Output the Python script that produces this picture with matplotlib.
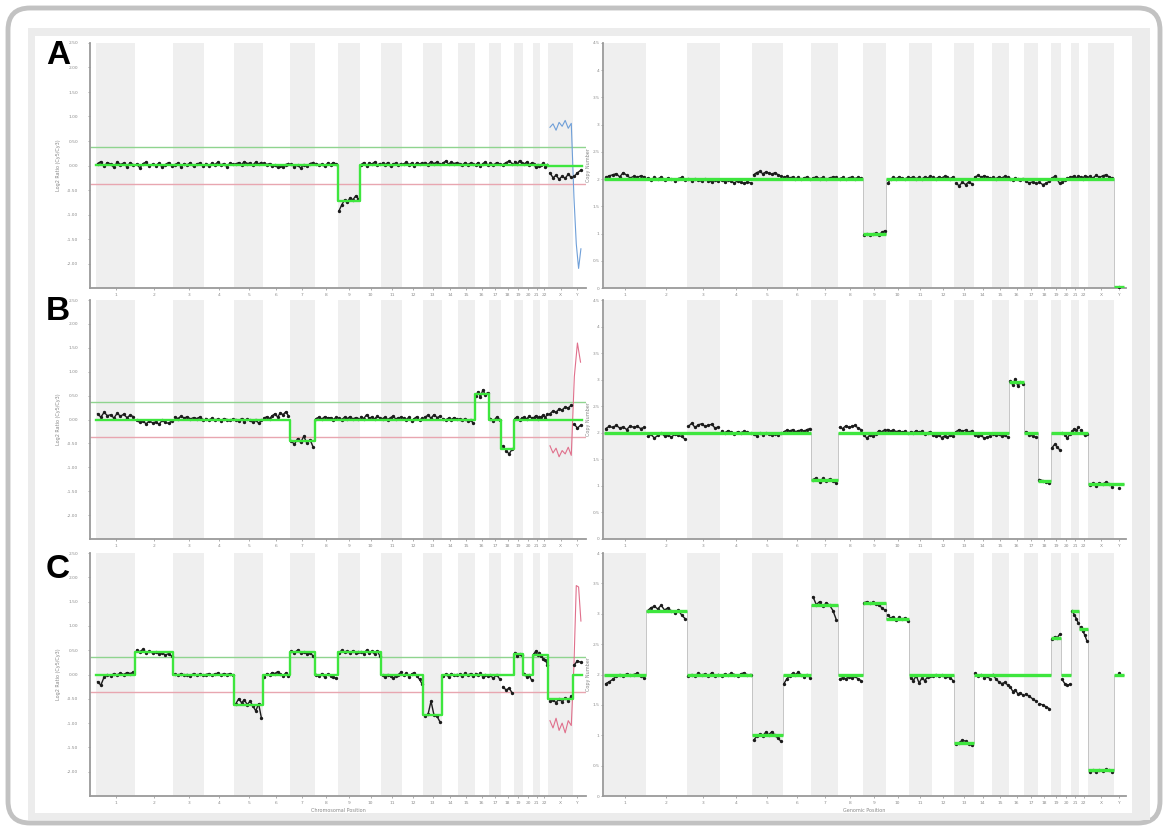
import numpy as np
import matplotlib.pyplot as plt
from matplotlib.patches import FancyBboxPatch, Rectangle
from matplotlib.transforms import IdentityTransform

# chromosome layout (Mb)
CHROMS = [str(i) for i in range(1, 23)] + ['X', 'Y']
CHROM_LEN = [249, 243, 198, 191, 181, 171, 159, 146, 141, 136, 135, 134,
             115, 107, 103, 90, 81, 78, 59, 63, 48, 51, 155, 59]

# ---------------- panel A ----------------
A_LOG2 = {
    '1': [0.04, 0.08, -0.02, 0.06, 0.03, -0.04, 0.07, 0.02, 0.05, -0.03, 0.06, 0.01],
    '2': [0.03, -0.05, 0.04, 0.07, -0.02, 0.03, 0.00, 0.05, -0.04, 0.02, 0.06, -0.01],
    '3': [0.02, 0.05, -0.03, 0.04, 0.01, 0.06, -0.02, 0.03, 0.05, 0.00],
    '4': [0.04, -0.02, 0.05, 0.02, 0.07, 0.01, 0.04, -0.03, 0.05, 0.03],
    '5': [0.03, 0.06, 0.02, 0.08, 0.04, 0.05, 0.01, 0.07, 0.03, 0.06],
    '6': [0.05, 0.02, 0.04, -0.02, 0.01, -0.04, 0.00, -0.03, 0.02, 0.04],
    '7': [0.03, -0.03, 0.01, -0.05, 0.02, -0.02, 0.04, 0.06],
    '8': [0.04, 0.01, 0.03, -0.02, 0.05, 0.02, 0.06, 0.03],
    '9': [-0.92, -0.80, -0.70, -0.74, -0.66, -0.70, -0.62, -0.68],
    '10': [0.02, 0.06, -0.01, 0.05, 0.03, 0.07, 0.01, 0.04],
    '11': [0.05, 0.02, 0.06, -0.02, 0.03, 0.05, 0.01, 0.04],
    '12': [0.03, 0.07, 0.02, 0.05, 0.00, 0.06, 0.03, 0.05],
    '13': [0.06, 0.02, 0.08, 0.04, 0.07, 0.03],
    '14': [0.05, 0.09, 0.03, 0.07, 0.04, 0.06],
    '15': [0.04, 0.01, 0.06, 0.02, 0.05, 0.03],
    '16': [0.02, 0.06, -0.01, 0.04, 0.07, 0.02],
    '17': [0.05, 0.01, 0.06, 0.03],
    '18': [0.02, 0.06, 0.09, 0.04],
    '19': [0.08, 0.03, 0.10, 0.05],
    '20': [0.03, 0.07, 0.02, 0.05],
    '21': [0.04, -0.04, 0.02, -0.02],
    '22': [0.01, 0.05, -0.03, 0.02],
    'X': [-0.15, -0.25, -0.20, -0.28, -0.22, -0.26, -0.18, -0.24],
    'Y': [-0.22, -0.15, -0.10],
}
A_LOG2_SEG = [('1', '8', 0.02), ('9', '9', -0.72), ('10', '22', 0.02), ('X', 'Y', -0.02)]
A_RAW_X = [0.78, 0.85, 0.72, 0.88, 0.80, 0.92, 0.76, 0.86]
A_RAW_Y = [-0.65, -1.60, -2.10, -1.70]

A_CN = {
    '1': [2.03, 2.06, 2.08, 2.10, 2.04, 2.12, 2.07, 2.02, 2.05, 2.03, 2.06, 2.04],
    '2': [2.02, 1.98, 2.03, 2.00, 2.04, 1.99, 2.02, 2.00, 1.97, 2.01, 2.03, 1.99],
    '3': [2.00, 1.97, 2.01, 1.98, 1.96, 2.00, 1.97, 1.95, 1.98, 1.96],
    '4': [1.98, 1.95, 1.99, 1.96, 1.93, 1.97, 1.94, 1.92, 1.95, 1.93],
    '5': [2.08, 2.12, 2.14, 2.10, 2.13, 2.11, 2.09, 2.12, 2.08, 2.05],
    '6': [2.03, 2.05, 2.02, 2.04, 2.01, 2.03, 2.00, 2.02, 2.04, 2.01],
    '7': [2.02, 2.04, 2.01, 2.03, 2.00, 2.02, 2.04, 2.03],
    '8': [2.01, 2.03, 2.00, 2.02, 2.04, 2.01, 2.03, 2.02],
    '9': [0.98, 1.00, 0.97, 0.99, 1.01, 0.98, 1.02, 1.05],
    '10': [1.92, 2.00, 2.03, 2.01, 2.04, 2.02, 2.00, 2.03],
    '11': [2.02, 2.04, 2.01, 2.03, 2.00, 2.04, 2.02, 2.05],
    '12': [2.03, 2.01, 2.04, 2.02, 2.05, 2.03, 2.01, 2.04],
    '13': [1.92, 1.88, 1.94, 1.90, 1.95, 1.91],
    '14': [2.04, 2.07, 2.03, 2.06, 2.04, 2.02],
    '15': [2.03, 2.01, 2.04, 2.02, 2.05, 2.03],
    '16': [2.01, 1.99, 2.02, 2.00, 1.98, 2.01],
    '17': [1.96, 1.93, 1.95, 1.92],
    '18': [1.94, 1.90, 1.92, 1.96],
    '19': [2.02, 2.05, 2.01, 1.92],
    '20': [1.94, 1.98, 2.02, 2.03],
    '21': [2.03, 2.06, 2.02, 2.05],
    '22': [2.04, 2.01, 2.06, 2.03],
    'X': [2.05, 2.02, 2.07, 2.03, 2.06, 2.08, 2.04, 2.02],
    'Y': [0.02],
}
A_CN_SEG = [('1', '8', 2.0), ('9', '9', 1.0), ('10', 'X', 2.0), ('Y', 'Y', 0.02)]

# ---------------- panel B ----------------
B_LOG2 = {
    '1': [0.12, 0.05, 0.15, 0.08, 0.10, 0.03, 0.13, 0.07, 0.11, 0.04, 0.09, 0.06],
    '2': [-0.02, -0.06, -0.04, -0.09, -0.03, -0.07, -0.05, -0.10, -0.02, -0.06, -0.08, -0.03],
    '3': [0.05, 0.02, 0.07, 0.03, 0.06, 0.01, 0.04, 0.02, 0.05, 0.00],
    '4': [0.02, -0.02, 0.03, -0.01, 0.01, -0.03, 0.02, 0.00, -0.02, 0.01],
    '5': [0.00, -0.03, 0.02, -0.05, 0.01, -0.02, -0.06, 0.00, -0.08, -0.02],
    '6': [0.03, 0.06, 0.02, 0.08, 0.12, 0.05, 0.14, 0.10, 0.16, 0.08],
    '7': [-0.45, -0.52, -0.40, -0.48, -0.35, -0.50, -0.42, -0.58],
    '8': [0.02, 0.05, 0.01, 0.06, 0.03, 0.04, 0.00, 0.05],
    '9': [0.03, 0.00, 0.05, 0.02, 0.06, 0.01, 0.04, 0.02],
    '10': [0.06, 0.02, 0.10, 0.03, 0.05, 0.01, 0.07, 0.03],
    '11': [0.02, 0.05, 0.00, 0.04, 0.07, 0.01, 0.03, 0.05],
    '12': [0.03, 0.00, 0.05, -0.03, 0.02, 0.06, -0.02, 0.03],
    '13': [0.05, 0.09, 0.03, 0.10, 0.04, 0.07],
    '14': [0.02, -0.01, 0.03, 0.00, 0.04, 0.01],
    '15': [0.01, -0.02, 0.02, -0.04, 0.00, -0.08],
    '16': [0.50, 0.58, 0.47, 0.62, 0.52, 0.56],
    '17': [0.02, -0.03, 0.05, 0.00],
    '18': [-0.55, -0.65, -0.72, -0.62],
    '19': [0.02, 0.06, -0.02, 0.03],
    '20': [0.05, 0.01, 0.07, 0.03],
    '21': [0.04, 0.08, 0.02, 0.06],
    '22': [0.06, 0.10, 0.04, 0.12],
    'X': [0.12, 0.18, 0.15, 0.22, 0.20, 0.26, 0.24, 0.30],
    'Y': [-0.10, -0.18, -0.12],
}
B_LOG2_SEG = [('1', '6', 0.0), ('7', '7', -0.45), ('8', '15', 0.0), ('16', '16', 0.53),
              ('17', '17', 0.0), ('18', '18', -0.62), ('19', 'Y', 0.0)]
B_RAW_X = [-0.55, -0.70, -0.60, -0.78, -0.65, -0.72, -0.58, -0.75]
B_RAW_Y = [0.90, 1.60, 1.20]

B_CN = {
    '1': [2.08, 2.12, 2.10, 2.14, 2.09, 2.11, 2.06, 2.13, 2.10, 2.12, 2.08, 2.10],
    '2': [1.93, 1.97, 1.90, 1.95, 1.99, 1.94, 1.96, 1.92, 1.97, 1.95, 1.93, 1.88],
    '3': [2.12, 2.18, 2.10, 2.15, 2.17, 2.12, 2.14, 2.16, 2.09, 2.11],
    '4': [2.03, 2.00, 2.04, 2.01, 1.98, 2.02, 2.00, 2.03, 2.01, 1.99],
    '5': [1.97, 1.94, 1.99, 1.96, 2.00, 1.97, 1.95, 1.98, 1.96, 2.00],
    '6': [2.02, 2.05, 2.03, 2.06, 2.02, 2.04, 2.05, 2.03, 2.06, 2.08],
    '7': [1.12, 1.15, 1.08, 1.14, 1.10, 1.13, 1.09, 1.05],
    '8': [2.10, 2.08, 2.13, 2.10, 2.12, 2.14, 2.09, 2.06],
    '9': [1.95, 1.90, 1.96, 1.93, 1.98, 2.04, 2.02, 2.06],
    '10': [2.06, 2.03, 2.05, 2.02, 2.04, 2.01, 2.03, 2.00],
    '11': [2.02, 2.00, 2.04, 2.01, 2.03, 1.98, 2.00, 2.02],
    '12': [1.96, 1.93, 1.95, 1.91, 1.94, 1.92, 1.95, 1.93],
    '13': [2.02, 2.06, 2.03, 2.05, 2.01, 2.04],
    '14': [1.96, 1.93, 1.95, 1.90, 1.92, 1.94],
    '15': [1.97, 1.95, 1.98, 1.93, 1.96, 1.92],
    '16': [2.98, 2.90, 3.02, 2.88, 2.95, 2.92],
    '17': [2.02, 1.96, 1.94, 1.92],
    '18': [1.12, 1.10, 1.08, 1.05],
    '19': [1.72, 1.78, 1.74, 1.68],
    '20': [2.00, 1.96, 1.90, 1.98],
    '21': [2.03, 2.08, 2.05, 2.10],
    '22': [2.05, 2.00, 1.96, 1.98],
    'X': [1.02, 1.05, 1.00, 1.06, 1.03, 1.07, 1.04, 0.98],
    'Y': [0.96],
}
B_CN_SEG = [('1', '6', 2.0), ('7', '7', 1.12), ('8', '15', 2.0), ('16', '16', 2.95),
            ('17', '17', 2.0), ('18', '18', 1.1), ('19', '22', 2.0), ('X', 'Y', 1.03)]

# ---------------- panel C ----------------
C_LOG2 = {
    '1': [-0.15, -0.22, -0.05, 0.00, -0.03, 0.02, -0.01, 0.03, 0.00, 0.04, 0.02, 0.05],
    '2': [0.50, 0.47, 0.52, 0.45, 0.48, 0.44, 0.46, 0.42, 0.45, 0.40, 0.43, 0.38],
    '3': [0.01, -0.02, 0.02, -0.01, 0.00, -0.03, 0.02, -0.02, 0.01, -0.01],
    '4': [0.00, 0.02, -0.01, 0.01, 0.03, -0.01, 0.02, 0.00, 0.02, -0.01],
    '5': [-0.60, -0.50, -0.58, -0.52, -0.62, -0.55, -0.65, -0.75, -0.60, -0.90],
    '6': [-0.05, 0.02, -0.01, 0.04, 0.02, 0.06, 0.01, -0.03, 0.03, -0.04],
    '7': [0.48, 0.45, 0.50, 0.44, 0.47, 0.42, 0.45, 0.38],
    '8': [0.00, -0.04, 0.02, -0.06, 0.01, -0.03, -0.05, -0.08],
    '9': [0.45, 0.50, 0.46, 0.48, 0.44, 0.49, 0.45, 0.47],
    '10': [0.47, 0.43, 0.50, 0.44, 0.48, 0.42, 0.49, 0.38],
    '11': [-0.02, -0.06, 0.00, -0.04, -0.08, -0.03, 0.00, 0.05],
    '12': [-0.02, 0.03, -0.05, 0.01, 0.04, -0.03, -0.10, -0.20],
    '13': [-0.85, -0.82, -0.55, -0.84, -0.86, -0.98],
    '14': [-0.03, 0.01, -0.05, 0.02, -0.02, 0.00],
    '15': [0.01, -0.04, 0.03, -0.02, 0.02, -0.03],
    '16': [0.02, -0.02, 0.03, -0.05, 0.00, -0.03],
    '17': [-0.02, -0.08, 0.00, -0.10],
    '18': [-0.25, -0.32, -0.28, -0.38],
    '19': [0.45, 0.38, 0.42, 0.40],
    '20': [0.02, -0.05, -0.02, -0.12],
    '21': [0.42, 0.48, 0.40, 0.45],
    '22': [0.38, 0.32, 0.30, 0.20],
    'X': [-0.55, -0.52, -0.58, -0.50, -0.56, -0.48, -0.54, -0.45],
    'Y': [0.20, 0.28, 0.25],
}
C_LOG2_SEG = [('1', '1', 0.0), ('2', '2', 0.46), ('3', '4', 0.0), ('5', '5', -0.63),
              ('6', '6', 0.0), ('7', '7', 0.46), ('8', '8', 0.0), ('9', '10', 0.46),
              ('11', '12', 0.0), ('13', '13', -0.84), ('14', '18', 0.0), ('19', '19', 0.42),
              ('20', '20', 0.0), ('21', '22', 0.40), ('X', 'X', -0.50), ('Y', 'Y', 0.0)]
C_RAW_X = [-0.95, -1.10, -0.90, -1.15, -1.00, -1.20, -0.95, -1.05]
C_RAW_Y = [0.20, 1.83, 1.80, 1.10]

C_CN = {
    '1': [1.85, 1.88, 1.92, 1.97, 2.00, 1.98, 2.01, 1.99, 2.00, 2.02, 1.98, 1.95],
    '2': [3.05, 3.10, 3.12, 3.08, 3.14, 3.06, 3.10, 3.04, 3.02, 3.06, 2.98, 2.92],
    '3': [1.97, 2.00, 1.98, 2.02, 1.99, 2.01, 1.97, 2.03, 1.98, 2.00],
    '4': [1.98, 2.01, 1.99, 2.02, 2.00, 1.97, 2.01, 2.03, 1.99, 2.00],
    '5': [0.92, 0.98, 1.02, 0.99, 1.05, 1.01, 1.06, 1.00, 0.95, 0.90],
    '6': [1.85, 1.93, 1.98, 2.02, 2.00, 2.04, 1.99, 1.96, 2.00, 1.95],
    '7': [3.28, 3.15, 3.20, 3.12, 3.18, 3.14, 3.05, 2.90],
    '8': [1.92, 1.95, 1.93, 1.96, 1.94, 1.97, 1.93, 1.90],
    '9': [3.18, 3.20, 3.17, 3.19, 3.16, 3.14, 3.10, 3.06],
    '10': [2.98, 2.93, 2.95, 2.90, 2.94, 2.91, 2.93, 2.88],
    '11': [1.95, 1.90, 1.98, 1.86, 1.94, 1.90, 1.96, 1.98],
    '12': [1.98, 2.00, 1.97, 1.99, 1.96, 1.98, 1.95, 1.90],
    '13': [0.85, 0.88, 0.92, 0.90, 0.86, 0.84],
    '14': [2.02, 1.97, 2.00, 1.95, 1.98, 1.92],
    '15': [2.00, 1.92, 1.88, 1.85, 1.87, 1.83],
    '16': [1.80, 1.72, 1.75, 1.68, 1.70, 1.66],
    '17': [1.68, 1.64, 1.60, 1.56],
    '18': [1.52, 1.50, 1.47, 1.44],
    '19': [2.58, 2.62, 2.60, 2.66],
    '20': [1.92, 1.85, 1.82, 1.84],
    '21': [3.05, 2.98, 2.92, 2.84],
    '22': [2.78, 2.72, 2.65, 2.55],
    'X': [0.40, 0.42, 0.39, 0.43, 0.41, 0.44, 0.42, 0.40],
    'Y': [2.02],
}
C_CN_SEG = [('1', '1', 2.0), ('2', '2', 3.05), ('3', '4', 2.0), ('5', '5', 1.0),
            ('6', '6', 2.0), ('7', '7', 3.15), ('8', '8', 2.0), ('9', '9', 3.18),
            ('10', '10', 2.92), ('11', '12', 2.0), ('13', '13', 0.88), ('14', '18', 2.0),
            ('19', '19', 2.6), ('20', '20', 2.0), ('21', '21', 3.05), ('22', '22', 2.75),
            ('X', 'X', 0.42), ('Y', 'Y', 2.0)]

LOG2_THRESH = 0.37

# ---------------------------------------------------------------
starts = np.concatenate([[0], np.cumsum(CHROM_LEN)[:-1]])
start = dict(zip(CHROMS, starts))
length = dict(zip(CHROMS, CHROM_LEN))
GENOME = sum(CHROM_LEN)

GREEN = '#3ee63e'
BAND = '#efefef'
AXC = '#8c8c8c'


def pos(ch, n):
    return start[ch] + (np.arange(n) + 0.5) / n * length[ch]


def seg_xy(segs):
    xs, ys = [], []
    for first, last, lvl in segs:
        xs += [start[first], start[last] + length[last]]
        ys += [lvl, lvl]
    return xs, ys


def base_axes(ax, xlim, ylim, yticks, yfmt, ylabel, xlabel=None, ypad=2, lpad=3):
    for i, ch in enumerate(CHROMS):
        if i % 2 == 0:
            ax.axvspan(start[ch], start[ch] + length[ch], color=BAND, lw=0, zorder=0)
    ax.set_xlim(*xlim)
    ax.set_ylim(*ylim)
    ax.set_xticks([start[c] + length[c] / 2 for c in CHROMS])
    ax.set_xticklabels(CHROMS)
    ax.set_yticks(yticks)
    ax.set_yticklabels([yfmt % v for v in yticks])
    ax.tick_params(labelsize=3.2, colors=AXC, length=1.5, width=0.5, pad=2)
    ax.tick_params(axis='y', pad=ypad)
    for s in ['top', 'right']:
        ax.spines[s].set_visible(False)
    for s in ['left', 'bottom']:
        ax.spines[s].set_color('#9a9a9a')
        ax.spines[s].set_linewidth(1.3)
    ax.set_ylabel(ylabel, fontsize=3.5, color='#888888', labelpad=lpad)
    if xlabel:
        ax.set_xlabel(xlabel, fontsize=3.5, color='#888888', labelpad=2)
    ax.patch.set_alpha(0)


def trace(ax, data):
    for ch in CHROMS:
        vals = data.get(ch, [])
        if len(vals) == 0:
            continue
        ax.plot(pos(ch, len(vals)), vals, color='#1c1c1c', lw=1.0,
                marker='o', ms=1.4, zorder=3)


def draw_log2(ax, data, segs, raw_x, raw_y, raw_color, xlabel=None):
    base_axes(ax, (-38, GENOME + 25), (-2.5, 2.5), np.arange(-2.0, 2.51, 0.5),
              '%.2f', 'Log2 Ratio (Cy5/Cy3)', xlabel, ypad=7, lpad=4)
    ax.axhline(LOG2_THRESH, color='#8fd48f', lw=1.0, zorder=1)
    ax.axhline(-LOG2_THRESH, color='#e8a6b0', lw=1.0, zorder=1)
    rx = np.concatenate([pos('X', len(raw_x)), pos('Y', len(raw_y))])
    ax.plot(rx, list(raw_x) + list(raw_y), color=raw_color, lw=0.8, zorder=2)
    trace(ax, data)
    xs, ys = seg_xy(segs)
    ax.plot(xs, ys, color=GREEN, lw=1.7, zorder=4)


def draw_cn(ax, data, segs, ytop, xlabel=None):
    base_axes(ax, (-6, GENOME + 12), (0, ytop), np.arange(0, ytop + 0.01, 0.5),
              '%g', 'Copy Number', xlabel, ypad=1, lpad=1)
    xs, ys = seg_xy(segs)
    ax.plot(xs, ys, color='#bdbdbd', lw=0.6, zorder=1)
    trace(ax, data)
    for first, last, lvl in segs:
        ax.plot([start[first], start[last] + length[last]], [lvl, lvl],
                color=GREEN, lw=2.4, zorder=4, solid_capstyle='butt')


W, H = 1168, 830
fig = plt.figure(figsize=(W / 100, H / 100), dpi=100)
fig.patch.set_facecolor('white')

# rounded outer frame, grey border strip and white plotting field (behind axes)
frame = [
    FancyBboxPatch((8, 7), W - 16, H - 15, boxstyle='round,pad=0,rounding_size=22',
                   fc='white', ec='#c2c2c2', lw=3.5),
    Rectangle((28, 10), 1122, 792, fc='#ececec', ec='none'),
    Rectangle((35, 17), 1097, 777, fc='white', ec='none'),
]
for z, p in enumerate(frame):
    p.set_transform(IdentityTransform())
    p.set_figure(fig)
    p.set_zorder(-10 + z)
    fig.patches.append(p)


def box(x0, x1, top, bottom):
    return [x0 / W, (H - bottom) / H, (x1 - x0) / W, (bottom - top) / H]


rows = [(43, 288), (300, 539), (553, 796)]
left_x = (90, 586)
right_x = (603, 1126)

axA1 = fig.add_axes(box(*left_x, *rows[0]))
axA2 = fig.add_axes(box(*right_x, *rows[0]))
axB1 = fig.add_axes(box(*left_x, *rows[1]))
axB2 = fig.add_axes(box(*right_x, *rows[1]))
axC1 = fig.add_axes(box(*left_x, *rows[2]))
axC2 = fig.add_axes(box(*right_x, *rows[2]))

draw_log2(axA1, A_LOG2, A_LOG2_SEG, A_RAW_X, A_RAW_Y, '#6f9fd8')
draw_cn(axA2, A_CN, A_CN_SEG, 4.5)
draw_log2(axB1, B_LOG2, B_LOG2_SEG, B_RAW_X, B_RAW_Y, '#e0708c')
draw_cn(axB2, B_CN, B_CN_SEG, 4.5)
draw_log2(axC1, C_LOG2, C_LOG2_SEG, C_RAW_X, C_RAW_Y, '#e0708c',
          xlabel='Chromosomal Position')
draw_cn(axC2, C_CN, C_CN_SEG, 4.0, xlabel='Genomic Position')

for lab, top in zip(['A', 'B', 'C'], [40, 296, 554]):
    fig.text(46 / W, 1 - top / H, lab, fontsize=24, fontweight='bold',
             family='Liberation Sans', va='top', ha='left')

fig.savefig('out.png', dpi=100)
